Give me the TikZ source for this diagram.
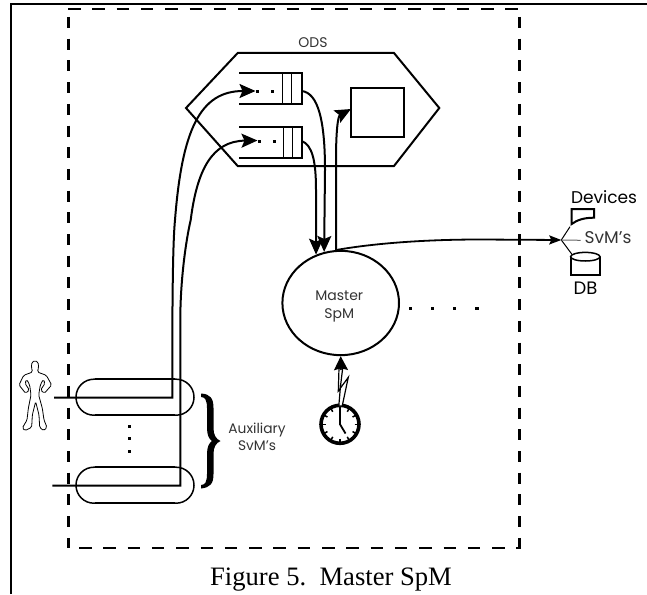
\documentclass[tikz,border=0pt]{standalone}
\usepackage{fontspec}
\setmainfont{Poppins}
\newfontfamily\capfont{Liberation Serif}
\usetikzlibrary{arrows.meta,shapes.geometric}
\tikzset{
  dashH/.style={line width=2.2pt,dash pattern=on 12.5pt off 11.8pt},
  dashV/.style={line width=3pt,dash pattern=on 11pt off 10.7pt},
  head/.style={-{Stealth[length=16pt,width=14pt,inset=3pt]}},
  flow/.style={line width=2pt,head},
  box/.style={line width=2pt},
  pill/.style={draw,line width=1.5pt,minimum width=118pt,minimum height=36pt,inner sep=0pt,rounded corners=17.9pt},
  lab/.style={inner sep=0pt,text=black!80},
  dotmark/.style={fill=black,minimum size=3pt,inner sep=0pt},
}
\begin{document}
\begin{tikzpicture}[x=1pt,y=-1pt]
\useasboundingbox (0,0) rectangle (647,594);
% frame
\draw[line width=2pt] (11,594) -- (11,4) -- (647,4);
% dashed boundary
\draw[dashH] (68,8.7) -- (519,8.7);
\draw[dashH] (79,547.7) -- (519,547.7);
\draw[dashV] (68.5,17) -- (68.5,548);
\draw[dashV] (519,17) -- (519,549);
% ODS
\draw[box] (186,108) -- (237.7,53) -- (394,53) -- (439.3,108) -- (394,166) -- (237.7,166) -- cycle;
\node[lab,font=\fontsize{14}{14}\selectfont] (ods) at (313,43) {ODS};
% queues
\draw[box] (239.3,73.3) -- (301.7,73.3) -- (301.7,104) -- (239.3,104);
\draw[line width=1.1pt] (282.3,73.3) -- (282.3,104) (291.7,73.3) -- (291.7,104);
\draw[box] (239.3,126.7) -- (301.7,126.7) -- (301.7,157.7) -- (239.3,157.7);
\draw[line width=1.1pt] (283.3,126.7) -- (283.3,157.7) (292.3,126.7) -- (292.3,157.7);
\coordinate (q1in) at (255.5,91);
\coordinate (q2in) at (257.5,140.5);
\coordinate (q1out) at (301.7,91);
\coordinate (q2out) at (301.7,141);
\node[dotmark] (d1) at (257.5,91) {};
\node[dotmark] (d2) at (272.3,91) {};
\node[dotmark] (d3) at (259,141) {};
\node[dotmark] (d4) at (274.3,141) {};
% result square
\node[draw,line width=2pt,minimum width=52.7pt,minimum height=49.6pt,inner sep=0pt] (res) at (377.7,112.5) {};
% master
\node[draw,ellipse,line width=2pt,minimum width=116.6pt,minimum height=104.3pt,inner sep=0pt] (master) at (340.7,303) {};
\node[lab,align=center,font=\fontsize{14}{18}\selectfont] (mtext) at (339.3,306.5) {Master\\SpM};
% pills
\node[pill] (p1) at (135,397.2) {};
\node[pill] (p2) at (135,485.2) {};
\draw[line width=2.4pt] (95,379.2) -- (175,379.2) (95,415.2) -- (175,415.2);
\draw[line width=2.4pt] (95,467.2) -- (175,467.2) (95,503.2) -- (175,503.2);
\node[dotmark] (v1) at (129.3,426) {};
\node[dotmark] (v2) at (129.3,438.3) {};
\node[dotmark] (v3) at (129.3,451.7) {};
% connectors into queues
\coordinate (u1) at (54,397.7);
\coordinate (u2) at (52.3,485.7);
\draw[flow] (u1) -- (172.3,397.7) -- (172.3,340) .. controls (172.5,290) and (173,240) .. (175,220) .. controls (182,130) and (200,91) .. (q1in);
\draw[flow] (u2) -- (180.3,485.7) -- (180.3,320) .. controls (180.3,280) and (186,240) .. (190.7,220) .. controls (197,170) and (212,141) .. (q2in);
% queues to master
\draw[flow] (q1out) .. controls (318,93) and (325,120) .. (325,170) -- (master.108.5);
\draw[flow] (q2out) .. controls (312,145) and (316,160) .. (316,190) -- (master.117.7);
% master to square
\draw[flow] (master.95) -- (336,160) .. controls (336,130) and (338,116) .. (351,109);
% master to SvM's
\coordinate (svm) at (561.3,240);
\draw[line width=1.8pt,-{Stealth[length=12pt,width=9pt,inset=2pt]}] (master.95) .. controls (370,244) and (420,239.5) .. (480,239.5) -- (svm);
% tree
\coordinate (devend) at (570,226.7);
\coordinate (dbend) at (571.7,254);
\coordinate (svmtext) at (580.7,240.3);
\draw[line width=1pt] (devend) -- (svm) -- (dbend);
\draw[line width=1pt,black!60] (svm) -- (svmtext);
\node[lab,font=\fontsize{17}{17}\selectfont] (svmlab) at (608,237.7) {SvM's};
\node[lab,text=black,font=\fontsize{17}{17}\selectfont] (devlab) at (604,197) {Devices};
\node[lab,text=black,font=\fontsize{18}{18}\selectfont] (dblab) at (585.5,288) {DB};
% device
\draw[box] (571.7,209) -- (594,209) -- (594,217.7) .. controls (584,217.7) and (577,220) .. (571.7,224) -- cycle;
% database
\draw[box] (570.7,256.7) -- (570.7,275) -- (600,275) -- (600,256.7);
\draw[line width=1.5pt] (585.3,256.7) ellipse [x radius=14.7pt,y radius=4.3pt];
% dots to the right of master
\node[dotmark,minimum size=3.6pt] (h1) at (410.3,308.3) {};
\node[dotmark,minimum size=3.6pt] (h2) at (432.3,308.3) {};
\node[dotmark,minimum size=3.6pt] (h3) at (454.3,308.3) {};
\node[dotmark,minimum size=3.6pt] (h4) at (477,308.3) {};
% clock
\node[draw,circle,line width=3.6pt,minimum size=38pt,inner sep=0pt] (clock) at (340,424.3) {};
\foreach \a in {0,30,...,330} \draw[line width=1.5pt] (clock.center) ++(\a:14.5pt) -- ++(\a:4pt);
\draw[line width=1.8pt] (340,407) -- (clock.center) -- (345.5,433.5);
% bolt
\coordinate (bolt) at (341,370);
\draw[line width=1.2pt,fill=white] (339,368) -- (338.3,391) -- (348.3,377.3) -- (342.2,406) -- (338.8,406) -- (340.5,386) -- (342.7,368) -- cycle;
\draw[line width=1.5pt,-{Stealth[length=14pt,width=14pt,inset=2pt]}] (bolt) -- (master.south);
% brace
\fill (201,393.5) .. controls (210,394) and (213.5,398) .. (213.5,408) -- (213.5,428) .. controls (213.5,435) and (216,439) .. (220.5,441) .. controls (216,443) and (213.5,447) .. (213.5,454) -- (213.5,474) .. controls (213.5,484) and (210,487.5) .. (201,488.5) -- (201,485) .. controls (205,485) and (207,482) .. (207,474) -- (207,454) .. controls (207,447) and (209,443) .. (212,441) .. controls (209,439) and (207,435) .. (207,428) -- (207,408) .. controls (207,400) and (205,397) .. (201,397) -- cycle;
\node[lab,align=center,font=\fontsize{13.8}{17}\selectfont] (aux) at (257,436.5) {Auxiliary\\SvM's};
% person
\begin{scope}[shift={(35pt,-340pt)},x=.3333pt,y=-.3333pt]
\draw[line width=.8pt,rounded corners=1.5pt,fill=white] (0,62) -- (9,66) -- (11,82) -- (7,96) -- (34,106) -- (50,135) -- (28,160) -- (17,150) -- (30,130) -- (25,118) -- (16,135) -- (11,165) -- (22,205) -- (27,240) -- (36,262) -- (26,272) -- (14,262) -- (12,225) -- (2,185) -- (-8,225) -- (-10,262) -- (-30,272) -- (-38,264) -- (-24,240) -- (-20,205) -- (-12,165) -- (-16,135) -- (-25,118) -- (-30,130) -- (-17,150) -- (-28,160) -- (-48,135) -- (-34,106) -- (-7,96) -- (-11,82) -- (-9,66) -- cycle;
\end{scope}
% caption
\node[inner sep=0pt,anchor=base,font=\capfont\fontsize{26.6}{30}\selectfont] (cap) at (331,585) {Figure 5.\ \ Master SpM};
\end{tikzpicture}
\end{document}
